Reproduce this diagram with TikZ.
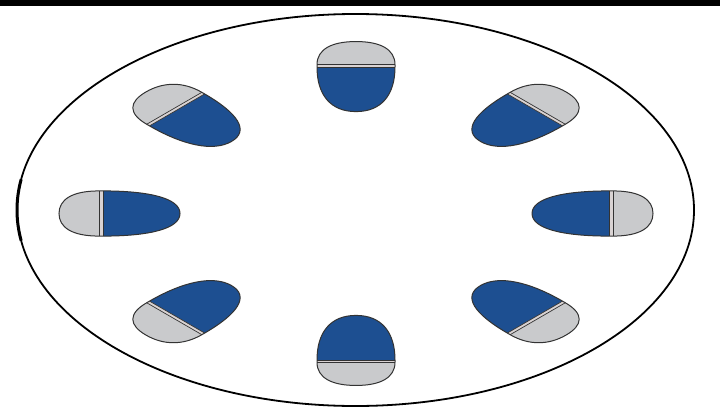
\documentclass[tikz,border=0pt]{standalone}
\definecolor{capblue}{HTML}{1D4F91}
\definecolor{capgray}{HTML}{C9CACC}
\definecolor{capedge}{HTML}{333333}
\definecolor{capstrip}{HTML}{D9D3D3}
\tikzset{
  capfillgray/.style={fill=capgray},
  capfillblue/.style={fill=capblue},
  capline/.style={draw=capedge, line width=1pt},
  capdiv/.style={draw=capedge, line width=0.7pt},
  rim/.style={draw=black, line width=1.8pt}
}
\newcommand\mycapsule{%
    \fill[capfillgray] (257,-39) .. controls (284,-39) and (297,-24) .. (297,0)
                   .. controls (297,24) and (284,39) .. (257,39) -- cycle;
    \fill[capfillblue] (253,39) .. controls (206,39) and (176,26) .. (176,0)
                   .. controls (176,-26) and (206,-39) .. (253,-39) -- cycle;
    \fill[capstrip] (253,-39) rectangle (257,39);
    \draw[capdiv] (253,-39) -- (253,39) (257,-39) -- (257,39);
    \draw[capline] (253,39) -- (257,39)
        .. controls (284,39) and (297,24) .. (297,0)
        .. controls (297,-24) and (284,-39) .. (257,-39) -- (253,-39)
        .. controls (206,-39) and (176,-26) .. (176,0)
        .. controls (176,26) and (206,39) .. (253,39) -- cycle;%
}
\begin{document}
\begin{tikzpicture}[x=1pt,y=-1pt]
  \useasboundingbox (0,0) rectangle (720,410);
  \fill[white] (0,0) rectangle (720,410);
  \fill[black] (0,0) rectangle (720,6);
  \draw[rim] (355.5,210) ellipse [x radius=338.5, y radius=196];
  \draw[black, line width=3pt] (355.5,210) ++(171:338.5 and 196)
      arc[start angle=171, end angle=189, x radius=338.5, y radius=196];
  \begin{scope}[shift={(356,213.5)}, yscale=0.579]
    \foreach \a in {0,45,...,315} {
      \begin{scope}[rotate=\a]
        \mycapsule
      \end{scope}
    }
  \end{scope}
\end{tikzpicture}
\end{document}
